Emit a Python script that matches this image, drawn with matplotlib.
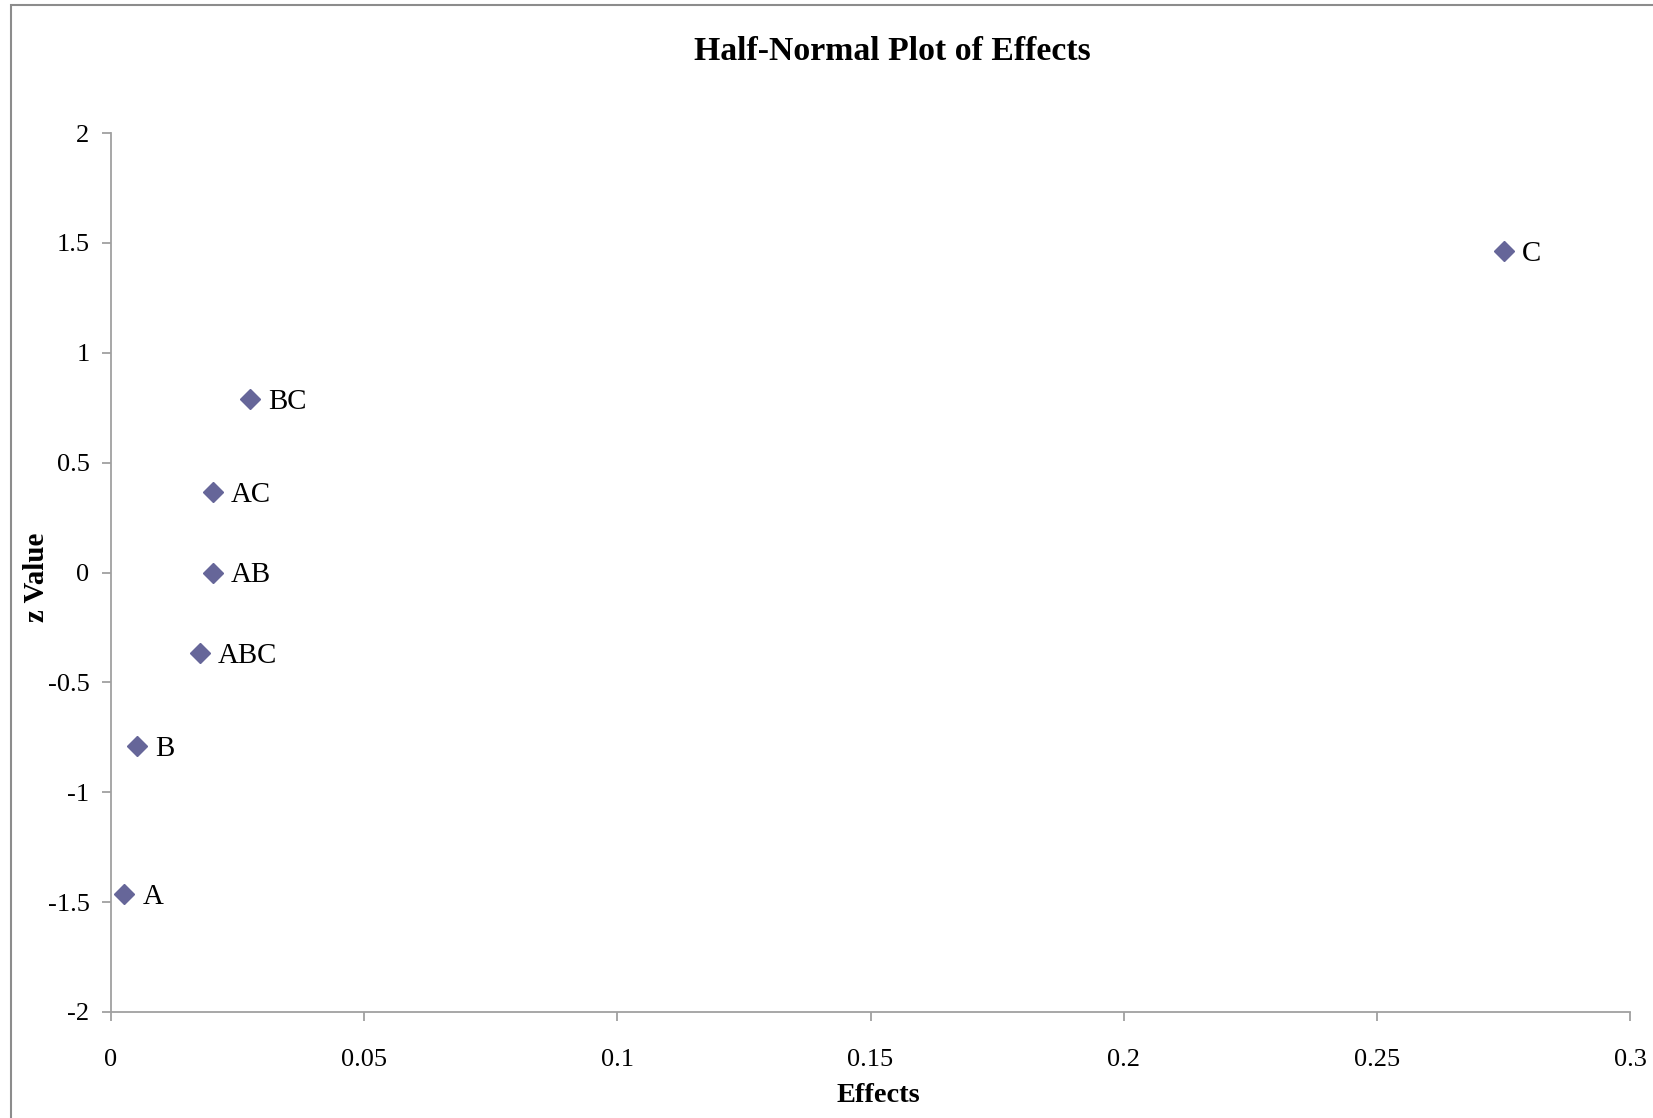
import matplotlib
matplotlib.use("Agg")
import matplotlib.pyplot as plt
from matplotlib.patches import Rectangle

# Absolute effects and their half-normal z values
labels = ["A", "B", "ABC", "AB", "AC", "BC", "C"]
effects = [0.0026, 0.0051, 0.0176, 0.0201, 0.0201, 0.0275, 0.2751]
z_values = [-1.4652, -0.7916, -0.3661, 0.0, 0.3661, 0.7916, 1.4652]

x_ticks = [0, 0.05, 0.1, 0.15, 0.2, 0.25, 0.3]
x_tick_labels = ["0", "0.05", "0.1", "0.15", "0.2", "0.25", "0.3"]
y_ticks = [-2, -1.5, -1, -0.5, 0, 0.5, 1, 1.5, 2]
y_tick_labels = ["-2", "-1.5", "-1", "-0.5", "0", "0.5", "1", "1.5", "2"]

W, H = 1653, 1118
fig = plt.figure(figsize=(W / 100, H / 100), dpi=100)
plt.rcParams["font.family"] = ["Liberation Serif", "DejaVu Serif"]

# chart area border
fig.patches.append(Rectangle((11 / W, -0.05), 1.2, 1 - 5 / H + 0.05,
                             transform=fig.transFigure, fill=False,
                             edgecolor="#8c8c8c", linewidth=1.5))

left, right, top, bottom = 111, 1630, 133, 1012
ax = fig.add_axes([left / W, 1 - bottom / H, (right - left) / W, (bottom - top) / H])
ax.set_xlim(0, 0.3)
ax.set_ylim(-2, 2)

ax.plot(effects, z_values, linestyle="none", marker="D", markersize=10,
        color="#666699", markeredgecolor="#666699")
for lab, x, y in zip(labels, effects, z_values):
    ax.annotate(lab, (x, y), xytext=(13, 0), textcoords="offset points",
                va="center_baseline", ha="left", fontsize=20.8, color="black")

for side in ("top", "right"):
    ax.spines[side].set_visible(False)
for side in ("left", "bottom"):
    ax.spines[side].set_color("#a0a0a0")
    ax.spines[side].set_linewidth(1.3)

ax.set_xticks(x_ticks)
ax.set_xticklabels(x_tick_labels)
ax.set_yticks(y_ticks)
ax.set_yticklabels(y_tick_labels)
ax.tick_params(axis="both", direction="out", length=6.5, width=1.3,
               color="#a0a0a0", labelsize=19, labelcolor="black")
ax.tick_params(axis="x", pad=20)
ax.tick_params(axis="y", pad=9)

fig.text(892 / W, 1 - 52 / H, "Half-Normal Plot of Effects", ha="center",
         va="center", fontsize=24.3, fontweight="bold")
fig.text(878 / W, 1 - 1096 / H, "Effects", ha="center", va="center",
         fontsize=20.4, fontweight="bold")
fig.text(37 / W, 1 - 577 / H, "z Value", ha="center", va="center",
         rotation=90, fontsize=20.8, fontweight="bold")

fig.savefig("out.png", dpi=100)
